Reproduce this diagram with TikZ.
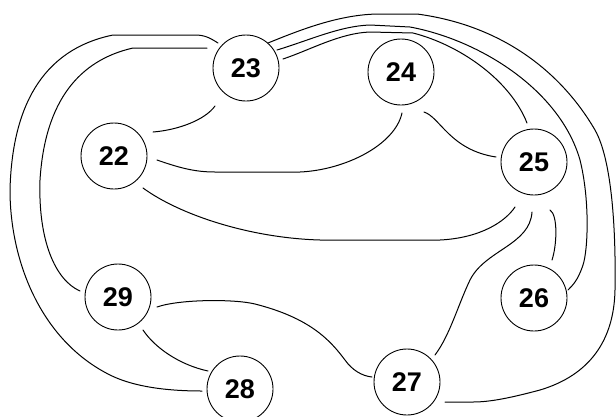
\documentclass[tikz,border=0pt]{standalone}
\usepackage{fontspec}
\setmainfont{Liberation Sans}
\usetikzlibrary{calc}
\begin{document}
\begin{tikzpicture}[x=1pt,y=-1pt,
  vert/.style={circle,draw,line width=0.9pt,minimum size=66pt,inner sep=0pt,
    font=\fontsize{27}{27}\selectfont\bfseries},
  edge/.style={draw,line width=1pt,line join=round,line cap=round}]
\useasboundingbox (0,0) rectangle (616,416);
\node[vert] (n22) at (114,156) {22};
\node[vert] (n23) at (246,68) {23};
\node[vert] (n24) at (401,72) {24};
\node[vert] (n25) at (534,162) {25};
\node[vert] (n26) at (534,298) {26};
\node[vert] (n27) at (407,382) {27};
\node[vert] (n28) at (240,389) {28};
\node[vert] (n29) at (118,297) {29};
% 23 - 22
\path[edge] ($(n23)+(-31,38)$) .. controls (205,120) and (178,130) .. ($(n22)+(39,-24)$);
% 22 - 24
\path[edge] ($(n22)+(43,4)$) .. controls (180,168) and (195,172) .. (215,172) -- (300,172)
  .. controls (345,170) and (395,145) .. ($(n24)+(1,41)$);
% 24 - 25
\path[edge] ($(n24)+(23,40)$) .. controls (440,117) and (450,150) .. ($(n25)+(-38,-5)$);
% 22 - 25
\path[edge] ($(n22)+(29,32)$) .. controls (180,215) and (250,238) .. (320,240) -- (440,240)
  .. controls (480,238) and (505,222) .. ($(n25)+(-19,45)$);
% 25 - 27
\path[edge] ($(n25)+(-2,50)$) .. controls (530,245) and (485,250) .. (470,280)
  .. controls (458,305) and (450,335) .. ($(n27)+(28,-27)$);
% 25 - 26
\path[edge] ($(n25)+(16,48)$) .. controls (558,215) and (557,245) .. ($(n26)+(18,-38)$);
% 29 - 27
\path[edge] ($(n29)+(39,10)$) .. controls (180,299) and (235,299) .. (255,304)
  .. controls (310,318) and (330,340) .. (345,360)
  .. controls (352,370) and (362,376) .. ($(n27)+(-35,-5)$);
% 29 - 28
\path[edge] ($(n29)+(25,33)$) .. controls (155,348) and (180,365) .. ($(n28)+(-32,-18)$);
% 23 - 27 (outer right)
\path[edge] ($(n23)+(22,-25)$) .. controls (300,30) and (340,14) .. (380,14) -- (417,14)
  .. controls (500,25) and (560,70) .. (595,130)
  .. controls (612,160) and (616,230) .. (615,290)
  .. controls (614,340) and (590,375) .. (540,390)
  .. controls (510,398) and (490,402) .. (473,402) -- ($(n27)+(38,20)$);
% 23 - 26 (middle right)
\path[edge] ($(n23)+(31,-18)$) .. controls (310,40) and (340,26) .. (370,25) -- (410,27)
  .. controls (480,40) and (560,90) .. (580,160)
  .. controls (590,200) and (588,250) .. (583,265)
  .. controls (578,280) and (573,285) .. ($(n26)+(34,-8)$);
% 23 - 25 (inner right)
\path[edge] ($(n23)+(37,-9)$) .. controls (310,50) and (340,33) .. (370,32) -- (413,33)
  .. controls (460,45) and (510,80) .. ($(n25)+(-7,-39)$);
% 23 - 28 (outer left)
\path[edge] ($(n23)+(-28,-25)$) .. controls (210,38) and (205,35) .. (195,35) -- (113,35)
  .. controls (40,50) and (12,110) .. (10,190)
  .. controls (10,260) and (40,340) .. (110,375)
  .. controls (130,385) and (160,391) .. ($(n28)+(-38,2)$);
% 23 - 29 (inner left)
\path[edge] ($(n23)+(-39,-20)$) -- (133,48)
  .. controls (80,60) and (45,100) .. (40,180)
  .. controls (38,240) and (55,280) .. ($(n29)+(-38,-6)$);
\end{tikzpicture}
\end{document}
